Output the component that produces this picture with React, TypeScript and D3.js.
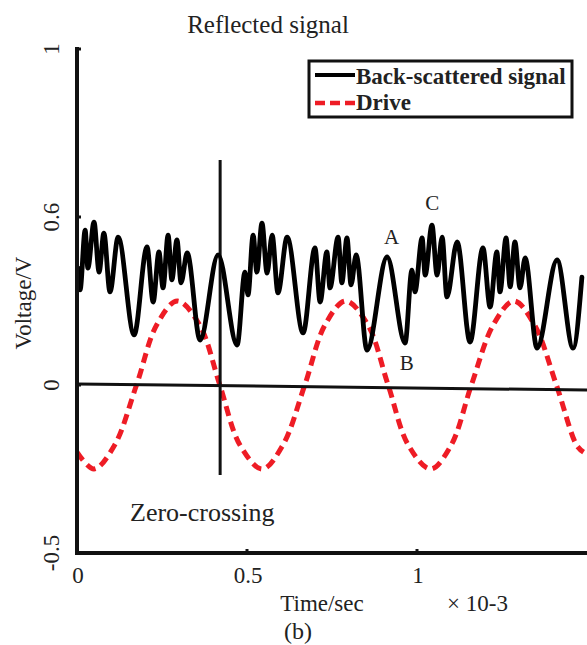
import React from "react";
import * as d3 from "d3";

// ---- data ----
const signalTime = [0.003,0.009,0.024,0.032,0.050,0.065,0.079,0.097,0.121,0.168,0.206,0.224,0.241,0.253,0.268,0.279,0.294,0.306,0.324,0.362,0.415,0.471,0.494,0.503,0.518,0.529,0.544,0.559,0.574,0.591,0.618,0.665,0.700,0.715,0.735,0.744,0.768,0.779,0.794,0.806,0.821,0.853,0.912,0.965,0.985,0.994,1.015,1.024,1.044,1.059,1.074,1.088,1.118,1.156,1.194,1.215,1.235,1.244,1.262,1.274,1.288,1.303,1.318,1.353,1.412,1.459,1.485];
const signalVolt = [0.348,0.283,0.461,0.348,0.485,0.336,0.452,0.277,0.440,0.149,0.411,0.247,0.396,0.289,0.446,0.313,0.432,0.304,0.393,0.134,0.387,0.119,0.336,0.268,0.446,0.336,0.482,0.333,0.446,0.274,0.440,0.155,0.408,0.247,0.396,0.289,0.440,0.304,0.438,0.298,0.387,0.104,0.381,0.125,0.342,0.277,0.438,0.327,0.476,0.327,0.440,0.262,0.426,0.128,0.408,0.232,0.396,0.277,0.438,0.292,0.426,0.289,0.378,0.110,0.372,0.110,0.321];

const driveTime = [0,0.05,0.11,0.175,0.235,0.295,0.36,0.42,0.48,0.545,0.605,0.67,0.73,0.79,0.855,0.915,0.975,1.04,1.10,1.16,1.225,1.285,1.345,1.41,1.47,1.49];
const driveVolt = [-0.20,-0.25,-0.18,0.0,0.18,0.25,0.18,0.0,-0.18,-0.25,-0.18,0.0,0.18,0.25,0.18,0.0,-0.18,-0.25,-0.18,0.0,0.18,0.25,0.18,0.0,-0.18,-0.20];

const zeroLineTime = [0, 1.5];
const zeroLineVolt = [0.003, -0.015];

const crossingTime = [0.421, 0.421];
const crossingVolt = [0.67, -0.268];

const xTickValues = [0, 0.5, 1];
const xTickLabels = ["0", "0.5", "1"];
const yTickValues = [-0.5, 0, 0.5, 1];
const yTickLabels = ["-0.5", "0", "0.6", "1"];

const annotations = [
  { label: "A", t: 0.925, v: 0.42 },
  { label: "C", t: 1.045, v: 0.52 },
  { label: "B", t: 0.97, v: 0.045 },
];

const legendItems = ["Back-scattered signal", "Drive"];
const titleText = "Reflected signal";
const xLabel = "Time/sec";
const xExponent = "× 10-3";
const yLabel = "Voltage/V";
const panelLabel = "(b)";
const crossingLabel = "Zero-crossing";

export default function App() {
  const W = 587, H = 645;
  const x = d3.scaleLinear().domain([0, 1.5]).range([77, 587]);
  const y = d3.scaleLinear().domain([-0.5, 1]).range([553, 49]);

  const line = d3.line<[number, number]>().x(d => x(d[0])).y(d => y(d[1]));
  const signalPath = d3.line<[number, number]>().x(d => x(d[0])).y(d => y(d[1])).curve(d3.curveMonotoneX)(
    signalTime.map((t, i) => [t, signalVolt[i]] as [number, number])
  );
  const drivePath = d3.line<[number, number]>().x(d => x(d[0])).y(d => y(d[1])).curve(d3.curveCatmullRom)(
    driveTime.map((t, i) => [t, driveVolt[i]] as [number, number])
  );
  const zeroPath = line(zeroLineTime.map((t, i) => [t, zeroLineVolt[i]] as [number, number]));
  const crossPath = line(crossingTime.map((t, i) => [t, crossingVolt[i]] as [number, number]));

  const font = "'Liberation Serif', 'Times New Roman', serif";
  const ink = "#111";
  const red = "#ee1c25";
  const x0 = x(0), yB = y(-0.5), yT = y(1);

  return (
    <svg width={W} height={H} style={{ position: "absolute", left: 0, top: 0, background: "#fff" }} fontFamily={font}>
      <rect x={0} y={0} width={W} height={H} fill="#fff" />
      {/* title */}
      <text x={268} y={33} fontSize={25} textAnchor="middle" fill="#222">{titleText}</text>

      {/* data */}
      <path d={drivePath || ""} fill="none" stroke={red} strokeWidth={5} strokeDasharray="10 6" />
      <path d={zeroPath || ""} fill="none" stroke={ink} strokeWidth={3} />
      <path d={crossPath || ""} fill="none" stroke={ink} strokeWidth={3} />
      <path d={signalPath || ""} fill="none" stroke="#000" strokeWidth={4.8} strokeLinejoin="round" strokeLinecap="round" />

      {/* axes */}
      <line x1={x0} x2={x0} y1={yT - 2} y2={yB + 2} stroke={ink} strokeWidth={4} />
      <line x1={x0 - 2} x2={W} y1={yB} y2={yB} stroke={ink} strokeWidth={4} />
      {yTickValues.map((v, i) => (
        <g key={"yt" + i}>
          <line x1={x0} x2={x0 + 4} y1={y(v)} y2={y(v)} stroke={ink} strokeWidth={3} />
          <text transform={`translate(59,${y(v)}) rotate(-90)`} fontSize={23} textAnchor="middle" fill="#222">
            {yTickLabels[i]}
          </text>
        </g>
      ))}
      {xTickValues.map((v, i) => (
        <g key={"xt" + i}>
          <line x1={x(v)} x2={x(v)} y1={yB} y2={yB - 4} stroke={ink} strokeWidth={3} />
          <text x={x(v) + 1} y={583} fontSize={23} textAnchor="middle" fill="#222">{xTickLabels[i]}</text>
        </g>
      ))}
      <text transform={`translate(31,303) rotate(-90)`} fontSize={23} textAnchor="middle" fill="#222">{yLabel}</text>
      <text x={322} y={611} fontSize={23} textAnchor="middle" fill="#222">{xLabel}</text>
      <text x={447} y={611} fontSize={23} textAnchor="start" fill="#222">{xExponent}</text>
      <text x={298} y={639} fontSize={24} textAnchor="middle" fill="#222">{panelLabel}</text>

      {/* annotations */}
      <text x={130} y={521} fontSize={26} fill="#222">{crossingLabel}</text>
      {annotations.map(a => (
        <text key={a.label} x={x(a.t)} y={y(a.v)} fontSize={21} textAnchor="middle" fill="#222">{a.label}</text>
      ))}

      {/* legend */}
      <rect x={309} y={61} width={263} height={56} fill="#fff" stroke={ink} strokeWidth={3} />
      <line x1={315} x2={355} y1={75} y2={75} stroke="#000" strokeWidth={4} />
      <line x1={315} x2={355} y1={103} y2={103} stroke={red} strokeWidth={4.5} strokeDasharray="10 5" />
      <text x={356} y={84} fontSize={23} fontWeight="bold" fill="#222">{legendItems[0]}</text>
      <text x={356} y={110} fontSize={23} fontWeight="bold" fill="#222">{legendItems[1]}</text>
    </svg>
  );
}
